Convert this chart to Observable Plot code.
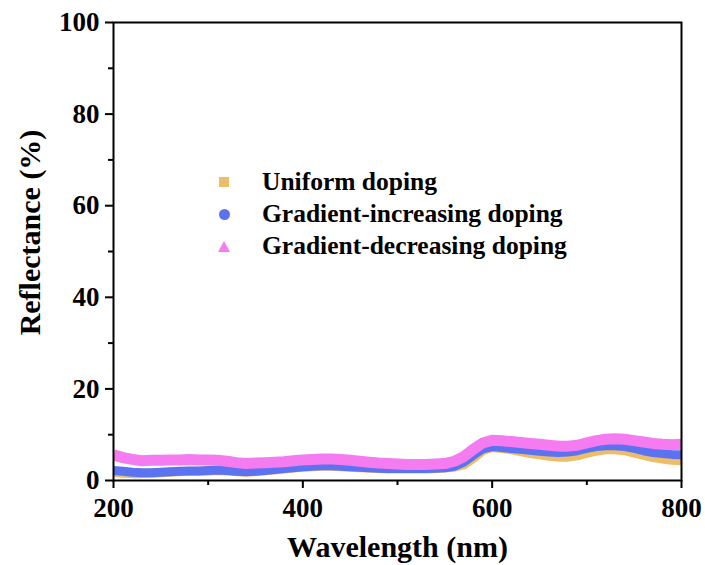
<!DOCTYPE html>
<html>
<head>
<meta charset="utf-8">
<script src="https://cdn.jsdelivr.net/npm/d3@7"></script>
<script src="https://cdn.jsdelivr.net/npm/@observablehq/plot@0.6"></script>
<style>
  body { margin: 0; background: #fff; }
  #wrap { position: relative; width: 705px; height: 565px; font-family: 'Liberation Serif', serif; }
  #legend { position: absolute; left: 212px; top: 166px; font-family: 'Liberation Serif', serif; font-weight: bold; font-size: 25.5px; color: #000; }
  .row { display: flex; align-items: center; height: 32px; }
  .mk { width: 24px; display: flex; justify-content: center; margin-right: 26px; }
</style>
</head>
<body>
<div id="wrap"></div>
<script>
const wavelength = [200,210,220,230,240,250,260,270,280,290,300,310,320,330,340,350,360,370,380,390,400,410,420,430,440,450,460,470,480,490,500,510,520,530,540,550,560,570,580,590,600,610,620,630,640,650,660,670,680,690,700,710,720,730,740,750,760,770,780,790,800];
const uniform = [1.8,1.6,1.5,1.5,1.6,1.7,1.8,1.9,2.0,2.0,2.1,2.2,2.1,1.9,1.8,1.9,2.1,2.3,2.5,2.7,2.9,3.0,3.1,3.1,3.0,2.9,2.8,2.7,2.6,2.5,2.5,2.5,2.5,2.5,2.6,2.7,2.9,3.4,4.8,6.5,7.2,7.0,6.7,6.3,5.9,5.6,5.3,5.1,5.1,5.4,5.9,6.4,6.7,6.7,6.5,6.0,5.5,5.0,4.7,4.4,4.3];
const gradInc = [2.2,2.0,1.8,1.7,1.7,1.8,1.9,2.0,2.1,2.1,2.2,2.3,2.2,2.0,1.9,2.0,2.2,2.4,2.6,2.8,3.0,3.1,3.2,3.2,3.1,3.0,2.9,2.8,2.7,2.6,2.6,2.6,2.6,2.6,2.7,2.8,3.1,4.0,5.5,6.9,7.4,7.2,7.0,6.8,6.6,6.4,6.2,6.1,6.2,6.5,7.0,7.4,7.6,7.6,7.4,7.0,6.5,6.1,5.9,5.7,5.6];
const gradDec = [5.6,5.0,4.6,4.3,4.4,4.4,4.5,4.5,4.6,4.5,4.5,4.4,4.2,3.9,3.7,3.8,3.9,4.0,4.1,4.3,4.5,4.6,4.7,4.7,4.6,4.4,4.2,4.0,3.8,3.7,3.6,3.5,3.5,3.5,3.6,3.7,4.2,5.2,6.8,8.2,8.8,8.7,8.5,8.3,8.1,7.9,7.7,7.5,7.5,7.7,8.2,8.7,9.0,9.1,9.0,8.7,8.4,8.1,7.9,7.8,7.9];
const seriesNames = ["Uniform doping","Gradient-increasing doping","Gradient-decreasing doping"];
const seriesColors = ["#EDBD68","#5B73F0","#F47BF0"];
const xMajor = [200,400,600,800];
const xMinor = [300,500,700];
const yMajor = [0,20,40,60,80,100];
const yMinor = [10,30,50,70,90];

const FF = "Liberation Serif";
const seriesValues = [uniform, gradInc, gradDec];
const widths = [9, 9, 11];
const lineMarks = seriesValues.map((vals, s) =>
  Plot.line(wavelength.map((w, i) => ({w, v: vals[i]})), {
    x: "w", y: "v", stroke: seriesColors[s], strokeWidth: widths[s], strokeLinejoin: "round", strokeLinecap: "butt", clip: true
  })
);

const txt = {fontFamily: FF, fontWeight: "bold", fontSize: 27};

const chart = Plot.plot({
  width: 705, height: 565,
  marginLeft: 113, marginRight: 24, marginTop: 22, marginBottom: 85,
  style: "font-family: 'Liberation Serif', serif; font-weight: bold; font-size: 27px; color: #000; background: #fff; overflow: visible;",
  x: {domain: [200, 800]},
  y: {domain: [0, 100]},
  marks: [
    ...lineMarks,
    Plot.frame({stroke: "#000", strokeWidth: 2}),
    Plot.axisX(xMajor, {tickSize: 8, tickPadding: 9, strokeWidth: 2, label: null, ...txt}),
    Plot.axisX(xMinor, {tickSize: 5, strokeWidth: 2, label: null, tickFormat: () => ""}),
    Plot.axisY(yMajor, {tickSize: 8, tickPadding: 6, strokeWidth: 2, label: null, ...txt}),
    Plot.axisY(yMinor, {tickSize: 5, strokeWidth: 2, label: null, tickFormat: () => ""}),
    Plot.text(["Wavelength (nm)"], {frameAnchor: "bottom", dy: 67, textAnchor: "middle", lineAnchor: "middle", ...txt, fontSize: 30}),
    Plot.text(["Reflectance (%)"], {frameAnchor: "left", dx: -83, dy: -19, rotate: -90, textAnchor: "middle", lineAnchor: "middle", ...txt, fontSize: 30})
  ]
});

const wrap = document.getElementById("wrap");
wrap.appendChild(chart);

const legend = document.createElement("div");
legend.id = "legend";
const shapes = [
  c => `<svg width="12" height="12"><rect x="1" y="1" width="10" height="10" fill="${c}"/></svg>`,
  c => `<svg width="13" height="13"><circle cx="6.5" cy="6.5" r="5.5" fill="${c}"/></svg>`,
  c => `<svg width="14" height="13"><path d="M7,1 L13,12 L1,12 Z" fill="${c}"/></svg>`
];
seriesNames.forEach((n, i) => {
  const row = document.createElement("div");
  row.className = "row";
  row.innerHTML = `<div class="mk">${shapes[i](seriesColors[i])}</div><span>${n}</span>`;
  legend.appendChild(row);
});
wrap.appendChild(legend);
</script>
</body>
</html>
